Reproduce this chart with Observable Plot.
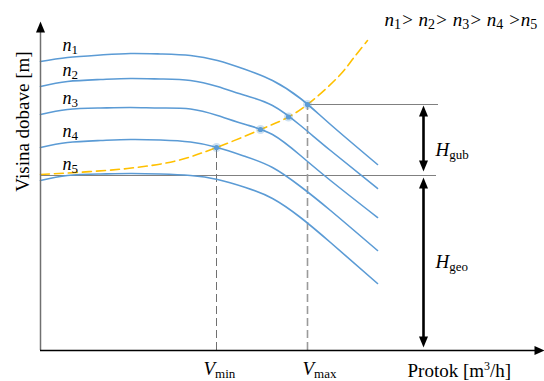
<!DOCTYPE html>
<html><head><meta charset="utf-8">
<script src="https://cdn.jsdelivr.net/npm/d3@7"></script>
<script src="https://cdn.jsdelivr.net/npm/@observablehq/plot@0.6"></script>
<style>
html,body{margin:0;padding:0;background:#fff}
svg text, svg tspan{font-family:"Liberation Serif","Tinos","Times New Roman","Times","DejaVu Serif","Noto Serif",serif !important;}
</style>
</head><body><div id="chart"></div>
<script>
// ---- data ----
const flow   = [0, 5.4, 12, 18, 24, 30, 35.4, 41, 46.4, 52, 58, 67.4];
const headN1 = [57.8, 58.6, 59.1, 59.4, 59.3, 59.0, 58.0, 56.2, 54.0, 50.4, 45.2, 37.2];
const headN2 = [52.8, 53.8, 54.2, 54.4, 54.3, 54.0, 52.8, 51.0, 49.0, 45.0, 40.0, 32.4];
const headN3 = [47.2, 48.2, 48.5, 48.6, 48.5, 48.3, 47.0, 45.2, 43.2, 39.0, 34.0, 26.6];
const headN4 = [40.6, 41.6, 42.0, 42.2, 42.1, 41.7, 40.6, 38.8, 36.6, 32.8, 28.0, 20.0];
const headN5 = [34.0, 35.0, 35.3, 35.4, 35.3, 35.0, 34.2, 32.6, 30.4, 26.6, 21.6, 13.4];
const speedNames = ["n_{1}", "n_{2}", "n_{3}", "n_{4}", "n_{5}"];

const sysFlow = [0, 17.4, 27.4, 35.2, 44, 49.6, 53.4, 59.8, 63, 65.4];
const sysHead = [35.2, 36.4, 38, 40.6, 44.2, 46.7, 49.2, 55, 59, 62];

const opFlow = [35.2, 44, 49.6, 53.4];
const opHead = [40.6, 44.2, 46.7, 49.2];

const vMin = 35.2, vMax = 53.4;   // flows of the limit points
const hGeo = 35, hMax = 49.2;     // static head, head at V_max

const flowMarks  = ["V_{min}", "V_{max}"];
const headMarks  = ["H_{gub}", "H_{geo}"];
const orderLabel = "n_{1}> n_{2}> n_{3}> n_{4} >n_{5}";
const xLabel = "Protok [m^{3}/h]";
const yLabel = "Visina dobave [m]";

// ---- build tables ----
const heads = [headN1, headN2, headN3, headN4, headN5];
const curveRows = speedNames.flatMap((name, i) => flow.map((q, j) => ({name, q, h: heads[i][j]})));
const sysRows = sysFlow.map((q, i) => ({q, h: sysHead[i]}));
const opRows = opFlow.map((q, i) => ({q, h: opHead[i]}));
const labelRows = speedNames.map((name, i) => ({name, q: flow[0], h: heads[i][0]}));

const FONT = "Liberation Serif, Tinos, Times New Roman, DejaVu Serif, serif";
const BLUE = "#5B9BD5", ORANGE = "#FFC000", GREY = "#808080";
const arrowX = 76.6;

const tipUp    = {draw(c){ c.moveTo(0,0); c.lineTo(-4.5,11); c.lineTo(4.5,11); c.closePath(); }};
const tipDown  = {draw(c){ c.moveTo(0,0); c.lineTo(-4.5,-11); c.lineTo(4.5,-11); c.closePath(); }};
const tipRight = {draw(c){ c.moveTo(0,0); c.lineTo(-10,-4.5); c.lineTo(-10,4.5); c.closePath(); }};

const txt = (o) => ({fontFamily: FONT, fontSize: 19, lineAnchor: "bottom", textAnchor: "start", fill: "black", ...o});

const svg = Plot.plot({
  width: 544, height: 381,
  marginLeft: 40, marginRight: 0, marginTop: 20, marginBottom: 31,
  x: {domain: [0, 100.8], axis: null},
  y: {domain: [0, 66], axis: null},
  style: {background: "white", fontFamily: FONT},
  marks: [
    // reference lines
    Plot.ruleY([hGeo], {x1: 0, x2: 79.2, stroke: GREY, strokeWidth: 1}),
    Plot.ruleY([hMax], {x1: vMax, x2: 79.6, stroke: GREY, strokeWidth: 1}),
    Plot.ruleX([vMin], {y1: 0, y2: opHead[0], stroke: "#707070", strokeWidth: 1, strokeDasharray: "8,4"}),
    Plot.ruleX([vMax], {y1: 0, y2: opHead[3], stroke: "#9a9a9a", strokeWidth: 1.6, strokeDasharray: "8,4"}),
    // pump curves
    Plot.line(curveRows, {x: "q", y: "h", z: "name", stroke: BLUE, strokeWidth: 1.6, curve: "natural"}),
    // system curve
    Plot.line(sysRows, {x: "q", y: "h", stroke: ORANGE, strokeWidth: 1.6, strokeDasharray: "9,5", curve: "catmull-rom"}),
    // operating points
    Plot.dot(opRows, {x: "q", y: "h", r: 4.5, fill: BLUE, fillOpacity: 0.3, stroke: "none"}),
    Plot.dot(opRows, {x: "q", y: "h", r: 2.6, fill: BLUE, stroke: "none"}),
    // dimension arrows
    Plot.ruleX([arrowX], {y1: hMax, y2: hGeo, stroke: "black", strokeWidth: 2.6, insetTop: 8, insetBottom: 10}),
    Plot.dot([hMax], {x: arrowX, y: d => d, symbol: tipUp, r: 5, fill: "black", stroke: "none", dy: 1}),
    Plot.dot([hGeo], {x: arrowX, y: d => d, symbol: tipDown, r: 5, fill: "black", stroke: "none", dy: -4}),
    Plot.ruleX([arrowX], {y1: hGeo, y2: 0, stroke: "black", strokeWidth: 2.6, insetTop: 10, insetBottom: 10}),
    Plot.dot([hGeo], {x: arrowX, y: d => d, symbol: tipUp, r: 5, fill: "black", stroke: "none", dy: 2}),
    Plot.dot([0], {x: arrowX, y: d => d, symbol: tipDown, r: 5, fill: "black", stroke: "none", dy: -3}),
    // axes
    Plot.ruleX([0], {y1: 0, y2: 63.6, stroke: "#707070", strokeWidth: 1.5}),
    Plot.dot([65.8], {x: 0, y: d => d, symbol: tipUp, r: 5, fill: "black", stroke: "none"}),
    Plot.ruleY([0], {x1: 0, x2: 99.5, stroke: "black", strokeWidth: 1.5}),
    Plot.dot([100.8], {x: d => d, y: 0, symbol: tipRight, r: 5, fill: "black", stroke: "none"}),
    // texts
    Plot.text(labelRows, txt({x: 4.4, y: "h", text: "name", dy: -11, fontStyle: "italic", fontSize: 18})),
    Plot.text([orderLabel], txt({x: 68.8, y: 65, text: d => d, fontStyle: "italic", fontSize: 19})),
    Plot.text([headMarks[0]], txt({x: 79, y: 39, text: d => d, fontStyle: "italic"})),
    Plot.text([headMarks[1]], txt({x: 79, y: 16.6, text: d => d, fontStyle: "italic"})),
    Plot.text([flowMarks[0]], txt({x: 32.6, y: -4.8, text: d => d, fontStyle: "italic"})),
    Plot.text([flowMarks[1]], txt({x: 52.4, y: -4.8, text: d => d, fontStyle: "italic"})),
    Plot.text([xLabel], txt({x: 73.4, y: -5.2, text: d => d})),
    Plot.text([yLabel], txt({x: -2.4, y: 45.8, text: d => d, rotate: -90, textAnchor: "middle"}))
  ]
});

// rich text: _{sub} and ^{sup}
function richify(el) {
  const s = el.textContent;
  if (!/[_^]\{/.test(s)) return;
  el.textContent = "";
  const re = /([_^])\{([^}]*)\}|([^_^]+)/g;
  let m, shift = 0;
  const big = s.includes(">");
  while ((m = re.exec(s))) {
    const ts = document.createElementNS("http://www.w3.org/2000/svg", "tspan");
    if (m[1]) {
      const target = m[1] === "_" ? 3 : -7;
      ts.setAttribute("font-size", m[1] === "_" ? (big ? 14 : 13) : 12);
      ts.setAttribute("font-style", "normal");
      ts.setAttribute("dy", target - shift);
      shift = target;
      ts.textContent = m[2];
    } else {
      if (shift) ts.setAttribute("dy", -shift);
      shift = 0;
      ts.textContent = m[3];
    }
    el.appendChild(ts);
  }
}
d3.select(svg).selectAll("text").each(function () { richify(this); });
document.getElementById("chart").appendChild(svg);
</script>
</body></html>
